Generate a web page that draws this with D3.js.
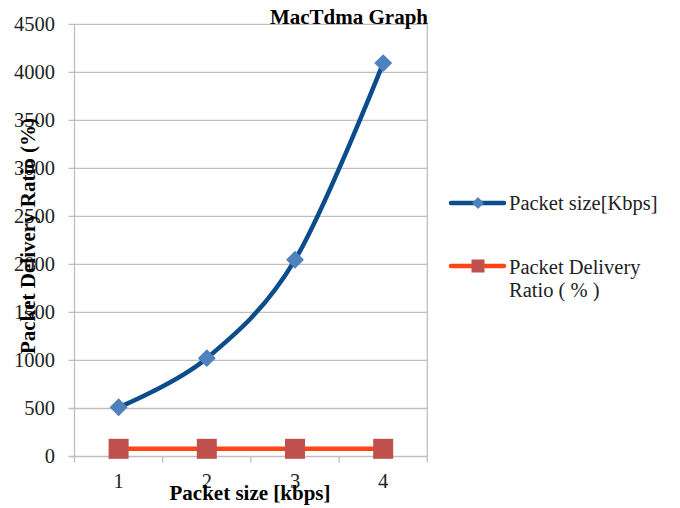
<!DOCTYPE html>
<html><head><meta charset="utf-8">
<script src="https://d3js.org/d3.v7.min.js"></script>
<style>body{margin:0;background:#fff}svg{display:block}</style>
</head><body><svg id="c" width="680" height="508"></svg>
<script>
const categories = ["1","2","3","4"];
const packetSize = [512, 1024, 2048, 4096];
const deliveryRatio = [80, 80, 80, 80];
const yTicks = [0,500,1000,1500,2000,2500,3000,3500,4000,4500];
const seriesNames = ["Packet size[Kbps]", "Packet Delivery", "Ratio ( % )"];

const svg = d3.select("#c");
const font = "'Liberation Serif','Times New Roman',serif";
const L = 74.5, R = 427.3, T = 24.3, B = 456.5;
const x = d3.scaleBand().domain(categories).range([L, R]);
const y = d3.scaleLinear().domain([0, 4500]).range([B, T]);
const grid = "#BFBFBF";

// horizontal gridlines
svg.append("g").selectAll("line").data(yTicks).join("line")
  .attr("x1", L - 6).attr("x2", R).attr("y1", d => y(d)).attr("y2", d => y(d))
  .attr("stroke", grid).attr("stroke-width", 1.3);
// vertical axis + right border
svg.append("line").attr("x1", L).attr("x2", L).attr("y1", T).attr("y2", B + 6).attr("stroke", grid).attr("stroke-width", 1.3);
svg.append("line").attr("x1", R).attr("x2", R).attr("y1", T).attr("y2", B + 6).attr("stroke", grid).attr("stroke-width", 1.3);
// x ticks at band boundaries
const bounds = categories.slice(1).map(c => x(c));
svg.append("g").selectAll("line").data(bounds).join("line")
  .attr("x1", d => d).attr("x2", d => d).attr("y1", B).attr("y2", B + 6)
  .attr("stroke", grid).attr("stroke-width", 1.3);

// y tick labels
svg.append("g").selectAll("text").data(yTicks).join("text")
  .attr("x", 55).attr("y", d => y(d)).attr("dy", "0.33em")
  .attr("text-anchor", "end").attr("font-family", font).attr("font-size", 20.5).attr("fill", "#222")
  .text(d => d);
// x tick labels
svg.append("g").selectAll("text").data(categories).join("text")
  .attr("x", d => x(d) + x.bandwidth() / 2).attr("y", 487.5)
  .attr("text-anchor", "middle").attr("font-family", font).attr("font-size", 20.5).attr("fill", "#222")
  .text(d => d);

// titles
svg.append("text").attr("x", 349).attr("y", 24).attr("text-anchor", "middle")
  .attr("font-family", font).attr("font-size", 21).attr("font-weight", "bold").text("MacTdma Graph");
svg.append("text").attr("x", 250).attr("y", 499.5).attr("text-anchor", "middle")
  .attr("font-family", font).attr("font-size", 21).attr("font-weight", "bold").text("Packet size [kbps]");
svg.append("text").attr("transform", "translate(35,236) rotate(-90)").attr("text-anchor", "middle")
  .attr("font-family", font).attr("font-size", 21).attr("font-weight", "bold").text("Packet Delivery Ratio (%)");

const cx = d => x(d) + x.bandwidth() / 2;
const blue = "#0B4C8C", blueM = "#4F81BD", red = "#FF4514", redM = "#C0504D";

// red series
svg.append("path").datum(deliveryRatio)
  .attr("d", d3.line().x((d, i) => cx(categories[i])).y(d => y(d)).curve(d3.curveCardinal.tension(0)))
  .attr("fill", "none").attr("stroke", red).attr("stroke-width", 4.5);
svg.append("g").selectAll("rect").data(deliveryRatio).join("rect")
  .attr("x", (d, i) => cx(categories[i]) - 10).attr("y", d => y(d) - 10)
  .attr("width", 20).attr("height", 20).attr("fill", redM);

// blue series
svg.append("path").datum(packetSize)
  .attr("d", d3.line().x((d, i) => cx(categories[i])).y(d => y(d)).curve(d3.curveCardinal.tension(0)))
  .attr("fill", "none").attr("stroke", blue).attr("stroke-width", 4.5);
const diamond = d3.symbol().type(d3.symbolDiamond2).size(205);
svg.append("g").selectAll("path").data(packetSize).join("path")
  .attr("transform", (d, i) => `translate(${cx(categories[i])},${y(d)})`)
  .attr("d", diamond).attr("fill", blueM);

// legend
const lg = svg.append("g");
lg.append("line").attr("x1", 451).attr("x2", 504).attr("y1", 203).attr("y2", 203)
  .attr("stroke", blue).attr("stroke-width", 4.5).attr("stroke-linecap", "round");
lg.append("path").attr("transform", "translate(478,203)").attr("d", d3.symbol().type(d3.symbolDiamond2).size(90)).attr("fill", blueM);
lg.append("text").attr("x", 509).attr("y", 210).attr("font-family", font).attr("font-size", 20.5).attr("fill", "#222").text(seriesNames[0]);
lg.append("line").attr("x1", 451).attr("x2", 504).attr("y1", 266).attr("y2", 266)
  .attr("stroke", red).attr("stroke-width", 4.5).attr("stroke-linecap", "round");
lg.append("rect").attr("x", 471.5).attr("y", 259.5).attr("width", 13).attr("height", 13).attr("fill", redM);
const t2 = lg.append("text").attr("font-family", font).attr("font-size", 20.5).attr("fill", "#222");
t2.append("tspan").attr("x", 509).attr("y", 274).text(seriesNames[1]);
t2.append("tspan").attr("x", 509).attr("y", 297).text(seriesNames[2]);
</script></body></html>
